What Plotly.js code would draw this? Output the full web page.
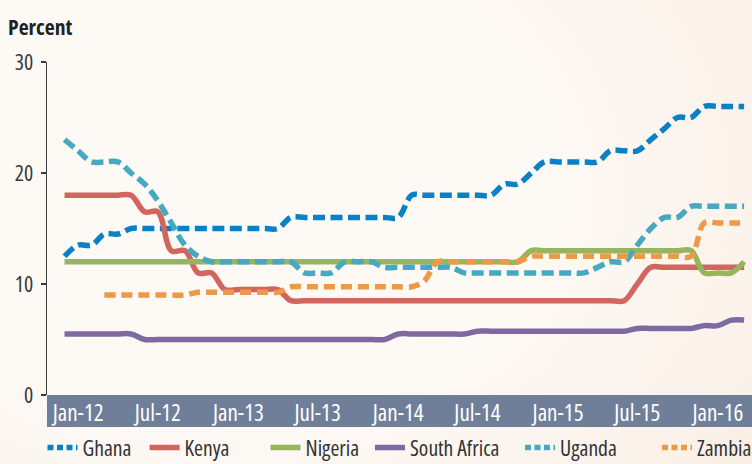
<!DOCTYPE html>
<html>
<head>
<meta charset="utf-8">
<script src="https://cdn.plot.ly/plotly-3.0.1.min.js"></script>
<style>
html,body{margin:0;padding:0;}
body{width:752px;height:464px;overflow:hidden;
 background: radial-gradient(ellipse 90% 110% at 30% 40%, #FDF9F5 45%, #FBF3EB 80%, #F8ECE1 100%);}
#chart{width:752px;height:464px;}
</style>
</head>
<body>
<div id="chart"></div>
<script>
// Monthly observations (policy rates, percent)
const months = ['2011-12-01',
 '2012-01-01','2012-02-01','2012-03-01','2012-04-01','2012-05-01','2012-06-01','2012-07-01','2012-08-01','2012-09-01','2012-10-01','2012-11-01','2012-12-01',
 '2013-01-01','2013-02-01','2013-03-01','2013-04-01','2013-05-01','2013-06-01','2013-07-01','2013-08-01','2013-09-01','2013-10-01','2013-11-01','2013-12-01',
 '2014-01-01','2014-02-01','2014-03-01','2014-04-01','2014-05-01','2014-06-01','2014-07-01','2014-08-01','2014-09-01','2014-10-01','2014-11-01','2014-12-01',
 '2015-01-01','2015-02-01','2015-03-01','2015-04-01','2015-05-01','2015-06-01','2015-07-01','2015-08-01','2015-09-01','2015-10-01','2015-11-01','2015-12-01',
 '2016-01-01','2016-02-01','2016-03-01'];

const ghana = [12.5,13.5,13.5,14.5,14.5,15,
 15,15,15,15,15,15,15,15,15,15,15,
 16,16,16,16,16,16,16,16,16,
 18,18,18,18,18,18,18,
 19,19,20,
 21,21,21,21,21,
 22,22,22,
 23,24,25,25,
 26,26,26,26];

const kenya = [18,18,18,18,18,18,
 16.5,16.5,13,13,11,11,
 9.5,9.5,9.5,9.5,9.5,
 8.5,8.5,8.5,8.5,8.5,8.5,8.5,8.5,8.5,8.5,8.5,8.5,8.5,
 8.5,8.5,8.5,8.5,8.5,8.5,8.5,8.5,8.5,8.5,8.5,8.5,8.5,
 10,
 11.5,11.5,11.5,11.5,11.5,11.5,11.5,11.5];

const nigeria = [12,12,12,12,12,12,12,12,12,12,12,12,12,12,12,12,12,12,
 12,12,12,12,12,12,12,12,12,12,12,12,12,12,12,12,12,
 13,13,13,13,13,13,13,13,13,13,13,13,13,
 11,11,11,12];

const southAfrica = [5.5,5.5,5.5,5.5,5.5,5.5,
 5,5,5,5,5,5,5,5,5,5,5,5,5,5,5,5,5,5,5,
 5.5,5.5,5.5,5.5,5.5,5.5,
 5.75,5.75,5.75,5.75,5.75,5.75,5.75,5.75,5.75,5.75,5.75,5.75,
 6,6,6,6,6,
 6.25,6.25,6.75,6.75];

const uganda = [23,22,21,21,21,20,19,17.5,15.5,13.5,12.5,12,
 12,12,12,12,12,12,
 11,11,11,
 12,12,12,
 11.5,11.5,11.5,11.5,11.5,11.5,
 11,11,11,11,11,11,11,11,11,11,
 11.5,12,12,13.5,15,16,16,
 17,17,17,17,17];

const zambia = [null,null,null,
 9,9,9,9,9,9,9,
 9.25,9.25,9.25,9.25,9.25,9.25,9.25,
 9.75,9.75,9.75,9.75,9.75,9.75,9.75,9.75,9.75,9.75,
 10.25,
 12,12,12,12,12,12,12,
 12.5,12.5,12.5,12.5,12.5,12.5,12.5,12.5,12.5,12.5,12.5,12.5,12.5,
 15.5,15.5,15.5,15.5];

const seriesNames = ['Ghana','Kenya','Nigeria','South Africa','Uganda','Zambia'];
const seriesValues = [ghana, kenya, nigeria, southAfrica, uganda, zambia];
const seriesColors = ['#0A80C6','#D2655D','#97B55C','#7F69A2','#47A9C1','#EC9A4A'];
const seriesDash = ['12px,5.5px','solid','solid','solid','12px,5.5px','11px,6px'];
const legendDash = ['6px,3.5px','solid','solid','solid','6px,3.5px','6px,3.5px'];

const tickDates = ['2012-01-01','2012-07-01','2013-01-01','2013-07-01','2014-01-01','2014-07-01','2015-01-01','2015-07-01','2016-01-01'];
const tickLabels = ['Jan-12','Jul-12','Jan-13','Jul-13','Jan-14','Jul-14','Jan-15','Jul-15','Jan-16'];

// ---- font choice: a condensed face, sized so texts are as wide as in the reference
const cv = document.createElement('canvas').getContext('2d');
function measure(text, family, weight, stretch, size) {
  cv.font = weight + ' ' + size + 'px ' + family;
  try { cv.fontStretch = stretch; } catch (e) {}
  return cv.measureText(text).width;
}
let FAM = "'DejaVu Sans Condensed', 'DejaVu Sans'", STRETCH = 'normal';
const candidates = [["'Open Sans'", 'condensed'], ["'Noto Sans'", 'condensed'], ["Roboto", 'condensed']];
for (const [fam, st] of candidates) {
  const wN = measure('Jan-12 South Africa', fam, 'normal', 'normal', 100);
  const wC = measure('Jan-12 South Africa', fam, 'normal', st, 100);
  if (wC < 0.9 * wN) { FAM = fam; STRETCH = st; break; }
}
// every svg text (also Plotly's hidden measuring node) uses the same width setting
const st = document.createElement('style');
st.textContent = 'svg text { font-stretch: ' + STRETCH + ' !important; }';
document.head.appendChild(st);

function fitSize(texts, target, weight) {
  const w = texts.reduce((s, t) => s + measure(t, FAM, weight, STRETCH, 100), 0);
  return Math.round(target / w * 1000) / 10;
}
const xTickSize = fitSize(['Jan-12'], 51, 'normal');
const yTickSize = fitSize(['30'], 18.5, 'normal');
const legendSize = fitSize(seriesNames, 348.5, 'normal');
const titleSize = fitSize(['Percent'], 64.5, 'bold');
const F = (size, color) => ({family: FAM, size: size, color: color});

const legendX = [42.5, 144.6, 265.5, 370, 520, 657];

const traces = [];
seriesNames.forEach((n, k) => {
  traces.push({
    type: 'scatter', mode: 'lines', name: n,
    x: months, y: seriesValues[k], showlegend: false,
    line: {color: seriesColors[k], width: 5.5, dash: seriesDash[k], shape: 'spline', smoothing: 1}
  });
});
// legend keys (no data, only the legend symbol)
seriesNames.forEach((n, k) => {
  traces.push({
    type: 'scatter', mode: 'lines', name: n, x: [null], y: [null], showlegend: true,
    line: {color: seriesColors[k], width: 5.5, dash: legendDash[k]},
    legend: k === 0 ? 'legend' : 'legend' + (k + 1)
  });
});

const layout = {
  width: 752, height: 464,
  margin: {l: 47, r: 0, t: 62, b: 69, autoexpand: false},
  paper_bgcolor: 'rgba(0,0,0,0)',
  plot_bgcolor: 'rgba(0,0,0,0)',
  font: F(legendSize, '#333333'),
  title: {text: '<b>Percent</b>', font: F(titleSize, '#222222'),
          xref: 'container', x: 8/752, xanchor: 'left',
          yref: 'container', y: 1 - 27/464, yanchor: 'middle'},
  xaxis: {type: 'date', range: ['2011-10-22', '2016-03-19'],
          tickmode: 'array', tickvals: tickDates, ticktext: tickLabels,
          tickfont: F(xTickSize, '#FFFFFF'),
          showgrid: false, zeroline: false, showline: false, ticks: '',
          ticklabelstandoff: 2, fixedrange: true},
  yaxis: {range: [0, 30], tickmode: 'array', tickvals: [0, 10, 20, 30],
          tickfont: F(yTickSize, '#3a3a3a'),
          showgrid: false, zeroline: false, showline: true,
          linecolor: '#3a3a3a', linewidth: 1.5,
          ticks: 'outside', ticklen: 5, tickwidth: 1.5, tickcolor: '#3a3a3a',
          ticklabelstandoff: 3, fixedrange: true},
  shapes: [{type: 'rect', xref: 'paper', yref: 'paper', x0: 0, x1: 1,
            y0: -32/333, y1: 0, fillcolor: '#6F7F99', line: {width: 0}, layer: 'below'}],
  showlegend: true
};

legendX.forEach((lx, k) => {
  const key = k === 0 ? 'legend' : 'legend' + (k + 1);
  layout[key] = {orientation: 'h', xref: 'container', yref: 'container',
                 x: lx/752, xanchor: 'left', y: 1 - 448/464, yanchor: 'middle',
                 bgcolor: 'rgba(0,0,0,0)', borderwidth: 0,
                 font: F(legendSize, '#333333')};
});

Plotly.newPlot('chart', traces, layout, {displayModeBar: false, staticPlot: true});
</script>
</body>
</html>
